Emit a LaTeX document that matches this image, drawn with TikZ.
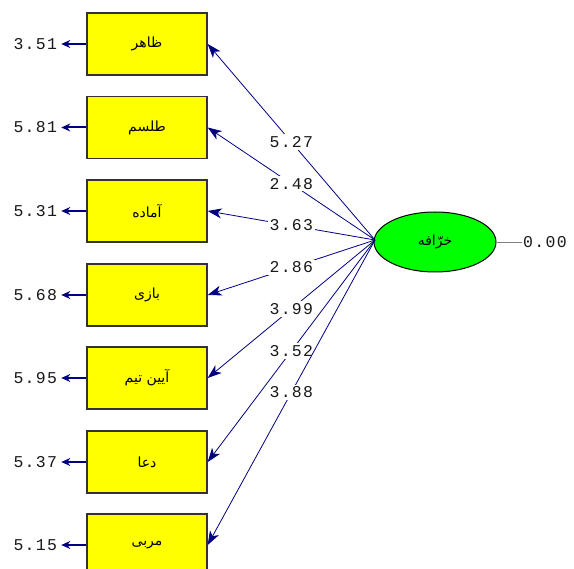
\documentclass[tikz,border=0pt]{standalone}
\usepackage{fontspec}
\usetikzlibrary{shapes.geometric,arrows.meta}
\TeXXeTstate=1
\newfontfamily\arabicfont[Script=Arabic]{DejaVu Sans}
\newfontfamily\numfont[LetterSpace=8]{Liberation Mono}
\definecolor{navy}{RGB}{0,0,128}
\definecolor{ylw}{RGB}{255,255,0}
\definecolor{grn}{RGB}{0,255,0}
\tikzset{
  obsbox/.style={draw=black!80, line width=1.4pt, fill=ylw, minimum width=120pt, minimum height=62pt, inner sep=0pt, font=\arabicfont\fontsize{14}{16}\selectfont},
  latent/.style={ellipse, draw=black, line width=1pt, fill=grn, minimum width=122pt, minimum height=60pt, inner sep=0pt, font=\arabicfont\fontsize{14}{16}\selectfont},
  numlab/.style={font=\numfont\fontsize{16.5}{18}\selectfont, text=black!90, inner sep=1pt},
  pathlab/.style={numlab, fill=white, inner sep=2pt},
  loading/.style={draw=navy, line width=0.8pt, -{Stealth[length=14pt,width=10pt,inset=4pt]}},
  errarrow/.style={draw=navy, line width=2pt, -{Stealth[length=9pt,width=8pt]}}
}
\begin{document}
\begin{tikzpicture}[x=1pt,y=-1pt]
\useasboundingbox (0,0) rectangle (574,569);
\fill[white] (0,0) rectangle (574,569);
% observed boxes
\node[obsbox] (b1) at (147,44) {\beginR ظاهر\endR};
\node[obsbox] (b2) at (147,127.5) {\beginR طلسم\endR};
\node[obsbox] (b3) at (147,211) {\beginR آماده\endR};
\node[obsbox] (b4) at (147,295) {\beginR بازی\endR};
\node[obsbox] (b5) at (147,378) {\beginR آیین تیم\endR};
\node[obsbox] (b6) at (147,462) {\beginR دعا\endR};
\node[obsbox] (b7) at (147,545) {\beginR مربی\endR};
% latent
\node[latent] (L) at (435,242) {\beginR خرّافه\endR};
\coordinate (Lw) at (375,240);
% error arrows
\foreach \i/\v in {1/3.51,2/5.81,3/5.31,4/5.68,5/5.95,6/5.37,7/5.15}{
  \coordinate (e\i) at ([xshift=-25pt]b\i.west);
  \draw[errarrow] (b\i.west) -- (e\i);
  \node[numlab, anchor=east] (ev\i) at ([xshift=-3pt]e\i) {\v};
}
% loadings
\foreach \i/\v in {1/5.27,2/2.48,3/3.63,4/2.86,5/3.99,6/3.52,7/3.88}{
  \draw[loading] (Lw) -- node[pathlab, pos=0.5] (lv\i) {\v} (b\i.east);
}
% latent variance
\coordinate (vr) at (522,242);
\draw[black!50, line width=0.8pt] (L.east) -- (vr);
\node[numlab, anchor=west] (lvar) at (vr) {0.00};
\end{tikzpicture}
\end{document}
